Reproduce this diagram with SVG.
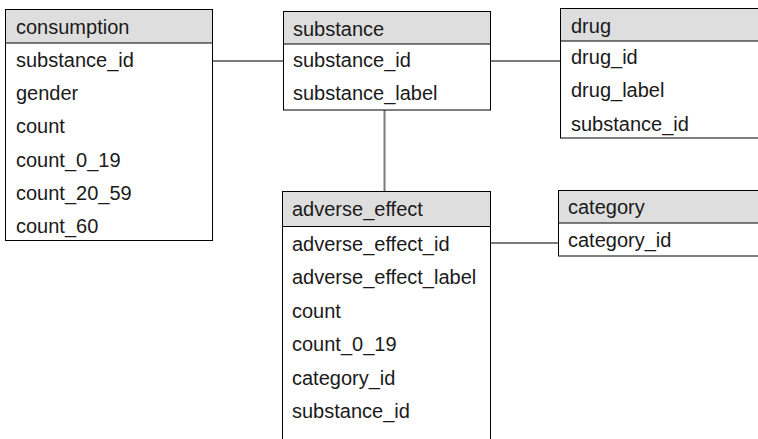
<svg xmlns="http://www.w3.org/2000/svg" width="758" height="439" viewBox="0 0 758 439">
<style>
  .box { fill: #ffffff; stroke: #000000; stroke-width: 1; }
  .hdr { fill: #dedede; stroke: #000000; stroke-width: 1; }
  .t { font-family: "Liberation Sans", Arial, sans-serif; font-size: 20px; fill: #1a1a1a; }
  .conn { stroke: #7a7a7a; stroke-width: 2; fill: none; }
</style>
<rect width="758" height="439" fill="#ffffff"/>
<g id="connectors">
  <line class="conn" x1="212.5" y1="61" x2="283.5" y2="61"/>
  <line class="conn" x1="490.5" y1="61" x2="560.5" y2="61"/>
  <line class="conn" x1="384.5" y1="110" x2="384.5" y2="191.5"/>
  <line class="conn" x1="490.5" y1="243" x2="558.5" y2="243"/>
</g>
<g id="consumption">
  <rect class="box" x="5.5" y="9.5" width="207" height="231"/>
  <rect class="hdr" x="5.5" y="9.5" width="207" height="33.5"/>
  <text class="t" x="16" y="33.5">consumption</text>
  <text class="t" x="16" y="66.5">substance_id</text>
  <text class="t" x="16" y="99.8">gender</text>
  <text class="t" x="16" y="133">count</text>
  <text class="t" x="16" y="166.5">count_0_19</text>
  <text class="t" x="16" y="199.8">count_20_59</text>
  <text class="t" x="16" y="232.5">count_60</text>
</g>
<g id="substance">
  <rect class="box" x="283.5" y="11.5" width="207" height="98.5"/>
  <rect class="hdr" x="283.5" y="11.5" width="207" height="32.5"/>
  <text class="t" x="293" y="35.5">substance</text>
  <text class="t" x="293" y="66.5">substance_id</text>
  <text class="t" x="293" y="99.8">substance_label</text>
</g>
<g id="drug">
  <rect class="box" x="560.5" y="8.5" width="210" height="129.5"/>
  <rect class="hdr" x="560.5" y="8.5" width="210" height="32.5"/>
  <text class="t" x="571" y="32.5">drug</text>
  <text class="t" x="571" y="63.8">drug_id</text>
  <text class="t" x="571" y="97.2">drug_label</text>
  <text class="t" x="571" y="130.5">substance_id</text>
</g>
<g id="adverse_effect">
  <rect class="box" x="282.5" y="191.5" width="208" height="270"/>
  <rect class="hdr" x="282.5" y="191.5" width="208" height="35"/>
  <text class="t" x="292" y="215.5">adverse_effect</text>
  <text class="t" x="292" y="250.5">adverse_effect_id</text>
  <text class="t" x="292" y="284">adverse_effect_label</text>
  <text class="t" x="292" y="317.5">count</text>
  <text class="t" x="292" y="351">count_0_19</text>
  <text class="t" x="292" y="384.5">category_id</text>
  <text class="t" x="292" y="417.5">substance_id</text>
</g>
<g id="category">
  <rect class="box" x="558.5" y="190.5" width="210" height="65.5"/>
  <rect class="hdr" x="558.5" y="190.5" width="210" height="32.5"/>
  <text class="t" x="568" y="214">category</text>
  <text class="t" x="568" y="247">category_id</text>
</g>
</svg>
